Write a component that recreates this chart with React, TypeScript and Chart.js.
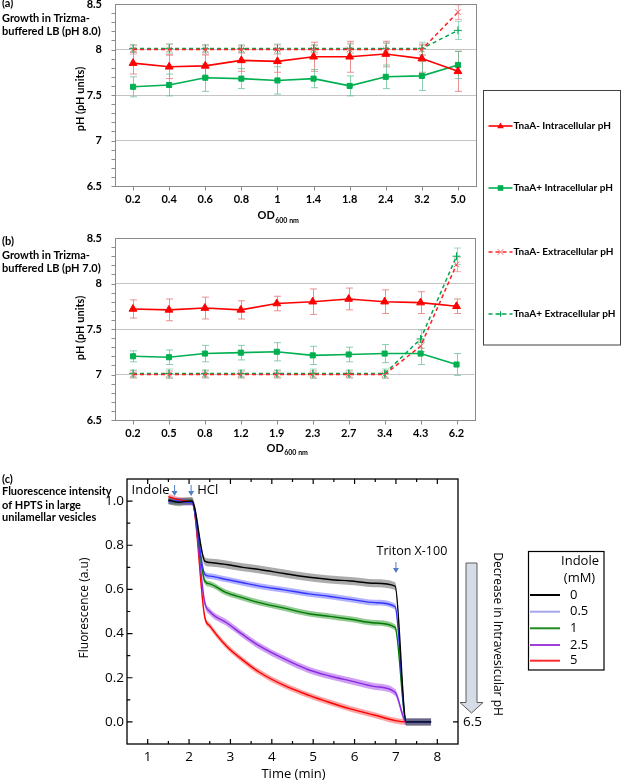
import React, { useEffect, useRef } from 'react';
import { Chart, registerables } from 'chart.js';

Chart.register(...registerables);

// ===== Panel (a): growth in Trizma-buffered LB (pH 8.0) =====
const odLabelsA = ['0.2', '0.4', '0.6', '0.8', '1', '1.4', '1.8', '2.4', '3.2', '5.0'];
const intraMinusA = [7.85, 7.81, 7.82, 7.88, 7.87, 7.92, 7.92, 7.95, 7.9, 7.76];
const intraMinusErrA = [0.12, 0.13, 0.12, 0.12, 0.12, 0.16, 0.17, 0.14, 0.15, 0.22];
const intraPlusA = [7.59, 7.61, 7.69, 7.68, 7.66, 7.68, 7.6, 7.7, 7.71, 7.83];
const intraPlusErrA = [0.11, 0.12, 0.15, 0.11, 0.15, 0.1, 0.11, 0.13, 0.16, 0.15];
const extraMinusA = [8.0, 8.0, 8.0, 8.0, 8.0, 8.0, 8.0, 8.0, 8.0, 8.41];
const extraMinusErrA = [0.05, 0.06, 0.05, 0.04, 0.05, 0.05, 0.07, 0.07, 0.06, 0.08];
const extraPlusA = [8.01, 8.01, 8.01, 8.01, 8.01, 8.01, 8.01, 8.01, 8.01, 8.21];
const extraPlusErrA = [0.04, 0.05, 0.04, 0.04, 0.05, 0.04, 0.05, 0.06, 0.07, 0.1];

// ===== Panel (b): growth in Trizma-buffered LB (pH 7.0) =====
const odLabelsB = ['0.2', '0.5', '0.8', '1.2', '1.9', '2.3', '2.7', '3.4', '4.3', '6.2'];
const intraMinusB = [7.72, 7.71, 7.73, 7.71, 7.78, 7.8, 7.83, 7.8, 7.79, 7.75];
const intraMinusErrB = [0.1, 0.12, 0.12, 0.1, 0.08, 0.14, 0.12, 0.13, 0.12, 0.08];
const intraPlusB = [7.2, 7.19, 7.23, 7.24, 7.25, 7.21, 7.22, 7.23, 7.23, 7.11];
const intraPlusErrB = [0.06, 0.08, 0.09, 0.08, 0.1, 0.1, 0.08, 0.1, 0.12, 0.12];
const extraMinusB = [7.0, 7.0, 7.0, 7.0, 7.0, 7.0, 7.0, 7.0, 7.31, 8.21];
const extraMinusErrB = [0.04, 0.04, 0.04, 0.04, 0.04, 0.04, 0.04, 0.04, 0.06, 0.08];
const extraPlusB = [7.01, 7.01, 7.01, 7.01, 7.01, 7.01, 7.01, 7.01, 7.39, 8.3];
const extraPlusErrB = [0.04, 0.05, 0.04, 0.04, 0.04, 0.05, 0.04, 0.05, 0.1, 0.09];

const phTicks = [6.5, 7, 7.5, 8, 8.5];
const seriesLabels = [
  'TnaA- Intracellular pH',
  'TnaA+ Intracellular pH',
  'TnaA- Extracellular pH',
  'TnaA+ Extracellular pH',
];

// ===== Panel (c): HPTS fluorescence in LUVs =====
const timeMin = [1.5, 1.75, 2.0, 2.07, 2.38, 2.5, 2.9, 3.3, 3.7, 4.3, 4.9, 5.4, 5.9, 6.5, 6.98, 7.25, 7.5, 7.85];
const fluorIndole0 = [1.005, 0.995, 1.0, 1.0, 0.728, 0.722, 0.713, 0.7, 0.69, 0.672, 0.655, 0.645, 0.638, 0.628, 0.615, 0.0, 0.0, 0.0];
const fluorIndole05 = [1.0, 1.0, 0.995, 0.995, 0.668, 0.66, 0.645, 0.63, 0.615, 0.598, 0.58, 0.568, 0.555, 0.54, 0.522, 0.0, 0.0, 0.0];
const fluorIndole1 = [1.0, 0.995, 1.0, 1.0, 0.638, 0.625, 0.585, 0.562, 0.54, 0.515, 0.49, 0.478, 0.465, 0.448, 0.428, 0.0, 0.0, 0.0];
const fluorIndole25 = [1.0, 1.0, 0.995, 0.995, 0.54, 0.5, 0.45, 0.395, 0.344, 0.285, 0.235, 0.208, 0.186, 0.16, 0.134, 0.0, 0.0, 0.0];
const fluorIndole5 = [1.02, 1.005, 1.0, 1.0, 0.474, 0.435, 0.344, 0.28, 0.225, 0.165, 0.12, 0.088, 0.059, 0.03, 0.006, 0.0, 0.0, 0.0];
const fluorBandHalfWidth = [0.018, 0.013, 0.013, 0.015, 0.013];
const indoleLabels = ['0', '0.5', '1', '2.5', '5'];
const fluorTicks = [0, 0.2, 0.4, 0.6, 0.8, 1.0];
const timeTicks = [1, 2, 3, 4, 5, 6, 7, 8];
const rightPhTickValues = [0];
const rightPhTickLabels = ['6.5'];
const indoleAddedAt = 1.65;
const hclAddedAt = 2.05;
const tritonAddedAt = 7.0;

const RED = '#ff0000';
const GREEN = '#00b050';
const CAL = 'Lato';
const SEG = '"Open Sans"';

function drawMarker(ctx: any, style: string, x: number, y: number, r: number, color: string) {
  ctx.save();
  ctx.fillStyle = color;
  ctx.strokeStyle = color;
  ctx.lineWidth = 1;
  ctx.setLineDash([]);
  ctx.beginPath();
  if (style === 'triangle') {
    ctx.moveTo(x, y - r);
    ctx.lineTo(x + r * 0.95, y + r * 0.65);
    ctx.lineTo(x - r * 0.95, y + r * 0.65);
    ctx.closePath();
    ctx.fill();
  } else if (style === 'rect') {
    ctx.fillRect(x - r, y - r, 2 * r, 2 * r);
  } else if (style === 'crossRot') {
    ctx.moveTo(x - r, y - r); ctx.lineTo(x + r, y + r);
    ctx.moveTo(x + r, y - r); ctx.lineTo(x - r, y + r);
    ctx.stroke();
  } else if (style === 'cross') {
    ctx.moveTo(x - r, y); ctx.lineTo(x + r, y);
    ctx.moveTo(x, y - r); ctx.lineTo(x, y + r);
    ctx.stroke();
  }
  ctx.restore();
}

function phDecorPlugin(p: any) {
  return {
    id: 'phDecor',
    beforeDatasetsDraw(chart: any) {
      const ctx = chart.ctx;
      const ys = chart.scales.y;
      chart.data.datasets.forEach((ds: any, i: number) => {
        const meta = chart.getDatasetMeta(i);
        ctx.save();
        ctx.strokeStyle = ds.errorColor;
        ctx.lineWidth = 1;
        ctx.beginPath();
        meta.data.forEach((pt: any, j: number) => {
          const v = ds.data[j];
          const e = ds.errors[j];
          const x = Math.round(pt.x) + 0.5;
          const yt = ys.getPixelForValue(v + e);
          const yb = ys.getPixelForValue(v - e);
          ctx.moveTo(x, yt); ctx.lineTo(x, yb);
          ctx.moveTo(x - 3.5, yt); ctx.lineTo(x + 3.5, yt);
          ctx.moveTo(x - 3.5, yb); ctx.lineTo(x + 3.5, yb);
        });
        ctx.stroke();
        ctx.restore();
      });
    },
    afterDraw(chart: any) {
      const { ctx, chartArea: ca } = chart;
      const xs = chart.scales.x;
      const ys = chart.scales.y;
      ctx.save();
      ctx.strokeStyle = '#8a8a8a';
      ctx.lineWidth = 1;
      const L = Math.round(ca.left) + 0.5;
      const T = Math.round(ca.top) + 0.5;
      const R = Math.round(ca.right) + 0.5;
      const B = Math.round(ca.bottom) + 0.5;
      ctx.strokeRect(L, T, R - L, B - T);
      ctx.beginPath();
      for (let k = 0; k < phTicks.length - 1; k++) {
        for (let m = 0; m < 5; m++) {
          const y = Math.round(ys.getPixelForValue(phTicks[k] + m * 0.1)) + 0.5;
          ctx.moveTo(L - 4, y); ctx.lineTo(L, y);
        }
      }
      chart.data.labels.forEach((_: any, i: number) => {
        const x = Math.round(xs.getPixelForValue(i)) + 0.5;
        ctx.moveTo(x, B); ctx.lineTo(x, B + 4);
      });
      ctx.stroke();

      ctx.fillStyle = '#000';
      ctx.save();
      ctx.translate(80.5, (ca.top + ca.bottom) / 2 + p.yTitleShift);
      ctx.rotate(-Math.PI / 2);
      ctx.font = `bold 11px ${CAL}`;
      ctx.textAlign = 'center';
      ctx.textBaseline = 'middle';
      ctx.fillText('pH (pH units)', 0, 0);
      ctx.restore();

      ctx.textAlign = 'left';
      ctx.textBaseline = 'middle';
      ctx.font = `bold 11px ${CAL}`;
      ctx.fillText('OD', p.odX, p.odY);
      const w = ctx.measureText('OD').width;
      ctx.font = `bold 7px ${CAL}`;
      ctx.fillText('600 nm', p.odX + w + 0.5, p.odY + 5);

      ctx.font = `bold 11px ${CAL}`;
      p.caption.forEach((line: string, i: number) => ctx.fillText(line, 2, p.captionYs[i]));

      if (p.legend) {
        const lg = p.legend;
        ctx.strokeStyle = '#404040';
        ctx.lineWidth = 1;
        ctx.strokeRect(lg.x, lg.y, lg.w, lg.h);
        chart.data.datasets.forEach((ds: any, i: number) => {
          const y = lg.itemYs[i];
          ctx.save();
          ctx.strokeStyle = ds.borderColor;
          ctx.lineWidth = 1.6;
          ctx.setLineDash(ds.borderDash || []);
          ctx.beginPath();
          ctx.moveTo(lg.x + 5, y); ctx.lineTo(lg.x + 29, y);
          ctx.stroke();
          ctx.restore();
          drawMarker(ctx, ds.pointStyle, lg.x + 17, y, ds.pointStyle === 'triangle' ? 3.5 : 2.8, ds.pointBorderColor || ds.borderColor);
          ctx.fillStyle = '#000';
          ctx.font = `bold 10px ${CAL}`;
          ctx.textAlign = 'left';
          ctx.textBaseline = 'middle';
          ctx.fillText(seriesLabels[i], lg.x + 30, y);
        });
      }
      ctx.restore();
    },
  };
}

function makePhChart(canvas: HTMLCanvasElement, d: any, deco: any, padding: any) {
  return new Chart(canvas, {
    type: 'line',
    data: {
      labels: d.labels,
      datasets: [
        {
          label: seriesLabels[0], data: d.intraMinus, errors: d.intraMinusErr,
          errorColor: 'rgba(225,110,110,0.75)', borderColor: RED, backgroundColor: RED,
          pointBackgroundColor: RED, pointBorderColor: RED, borderWidth: 1.6,
          pointStyle: 'triangle', pointRadius: 4.5, pointBorderWidth: 1,
        },
        {
          label: seriesLabels[1], data: d.intraPlus, errors: d.intraPlusErr,
          errorColor: 'rgba(100,190,150,0.75)', borderColor: GREEN, backgroundColor: GREEN,
          pointBackgroundColor: GREEN, pointBorderColor: GREEN, borderWidth: 1.6,
          pointStyle: 'rect', pointRadius: 3.6, pointBorderWidth: 1,
        },
        {
          label: seriesLabels[2], data: d.extraMinus, errors: d.extraMinusErr,
          errorColor: 'rgba(225,120,120,0.6)', borderColor: '#ff2020', backgroundColor: 'transparent',
          pointBorderColor: 'rgba(235,90,90,0.9)', borderWidth: 1.5, borderDash: [4, 3],
          pointStyle: 'crossRot', pointRadius: 4, pointBorderWidth: 1,
        },
        {
          label: seriesLabels[3], data: d.extraPlus, errors: d.extraPlusErr,
          errorColor: 'rgba(100,190,150,0.6)', borderColor: '#00a650', backgroundColor: 'transparent',
          pointBorderColor: '#00a650', borderWidth: 1.5, borderDash: [4, 3],
          pointStyle: 'cross', pointRadius: 4, pointBorderWidth: 1,
        },
      ] as any,
    },
    options: {
      responsive: false,
      animation: false,
      devicePixelRatio: 1,
      events: [],
      layout: { padding },
      plugins: { legend: { display: false }, tooltip: { enabled: false } },
      scales: {
        x: {
          type: 'category',
          offset: true,
          grid: { display: false, drawTicks: false },
          border: { display: false },
          ticks: {
            color: '#000', padding: 7, maxRotation: 0, autoSkip: false,
            font: { family: CAL, size: 11, weight: 'bold' },
          },
          afterFit: (s: any) => { s.height = 44; },
        },
        y: {
          min: 6.5,
          max: 8.5,
          afterBuildTicks: (s: any) => { s.ticks = phTicks.map((v) => ({ value: v })); },
          ticks: {
            color: '#000', padding: 13,
            font: { family: CAL, size: 11, weight: 'bold' },
            callback: (v: any) => String(v),
          },
          grid: { color: '#c4c4c4', lineWidth: 1, drawTicks: false },
          border: { display: false },
          afterFit: (s: any) => { s.width = 115; },
        },
      },
    } as any,
    plugins: [phDecorPlugin(deco)],
  });
}

function downArrow(ctx: any, x: number, y1: number, y2: number, color: string) {
  ctx.save();
  ctx.strokeStyle = color;
  ctx.fillStyle = color;
  ctx.lineWidth = 1;
  ctx.beginPath();
  ctx.moveTo(x, y1); ctx.lineTo(x, y2 - 4);
  ctx.stroke();
  ctx.beginPath();
  ctx.moveTo(x - 3, y2 - 5); ctx.lineTo(x + 3, y2 - 5); ctx.lineTo(x, y2);
  ctx.closePath();
  ctx.fill();
  ctx.restore();
}

const fluorPlugin = {
  id: 'fluorDecor',
  afterDraw(chart: any) {
    const { ctx, chartArea: ca } = chart;
    const xs = chart.scales.x;
    const ys = chart.scales.y;
    ctx.save();
    ctx.strokeStyle = '#000';
    ctx.lineWidth = 1.3;
    ctx.strokeRect(ca.left, ca.top, ca.right - ca.left, ca.bottom - ca.top);
    ctx.lineWidth = 1.2;
    ctx.beginPath();
    timeTicks.forEach((t) => {
      const x = xs.getPixelForValue(t);
      ctx.moveTo(x, ca.bottom); ctx.lineTo(x, ca.bottom - 5);
      ctx.moveTo(x, ca.top); ctx.lineTo(x, ca.top + 5);
      const xm = xs.getPixelForValue(t - 0.5);
      if (xm > ca.left + 1) {
        ctx.moveTo(xm, ca.bottom); ctx.lineTo(xm, ca.bottom - 3);
        ctx.moveTo(xm, ca.top); ctx.lineTo(xm, ca.top + 3);
      }
    });
    fluorTicks.forEach((v) => {
      const y = ys.getPixelForValue(v);
      ctx.moveTo(ca.left, y); ctx.lineTo(ca.left + 5.5, y);
      const ym = ys.getPixelForValue(v + 0.1);
      if (ym > ca.top + 1) { ctx.moveTo(ca.left, ym); ctx.lineTo(ca.left + 3.3, ym); }
    });
    rightPhTickValues.forEach((v) => {
      const y = ys.getPixelForValue(v);
      ctx.moveTo(ca.right, y); ctx.lineTo(ca.right - 5, y);
    });
    ctx.stroke();

    ctx.fillStyle = '#000';
    ctx.font = `13px ${SEG}`;
    ctx.textAlign = 'center';
    ctx.textBaseline = 'middle';
    ctx.fillText('Time (min)', (ca.left + ca.right) / 2 + 1, 314);
    ctx.save();
    ctx.translate(85, 148);
    ctx.rotate(-Math.PI / 2);
    ctx.font = `12px ${SEG}`;
    ctx.fillText('Fluorescence (a.u)', 0, 0);
    ctx.restore();

    const arrowColor = '#4f7fc0';
    const xi = xs.getPixelForValue(indoleAddedAt);
    const xh = xs.getPixelForValue(hclAddedAt);
    const xt = xs.getPixelForValue(tritonAddedAt);
    downArrow(ctx, xi, 25, 36, arrowColor);
    downArrow(ctx, xh, 25, 36, arrowColor);
    downArrow(ctx, xt, 102, 113, arrowColor);
    ctx.fillStyle = '#000';
    ctx.font = `13px ${SEG}`;
    ctx.textBaseline = 'middle';
    ctx.textAlign = 'right';
    ctx.fillText('Indole', xi - 5, 30);
    ctx.textAlign = 'left';
    ctx.fillText('HCl', xh + 6, 30);
    ctx.textAlign = 'center';
    ctx.font = `12.5px ${SEG}`;
    ctx.fillText('Triton X-100', xt + 16, 91.5);

    ctx.save();
    ctx.fillStyle = '#d6dce5';
    ctx.strokeStyle = '#5a5a5a';
    ctx.lineWidth = 1;
    ctx.beginPath();
    ctx.moveTo(466, 103);
    ctx.lineTo(477, 103);
    ctx.lineTo(477, 242.5);
    ctx.lineTo(483, 242.5);
    ctx.lineTo(471.5, 253);
    ctx.lineTo(460, 242.5);
    ctx.lineTo(466, 242.5);
    ctx.closePath();
    ctx.fill();
    ctx.stroke();
    ctx.restore();
    ctx.save();
    ctx.translate(497, 174);
    ctx.rotate(Math.PI / 2);
    ctx.fillStyle = '#000';
    ctx.font = `12px ${SEG}`;
    ctx.textAlign = 'center';
    ctx.textBaseline = 'middle';
    ctx.fillText('Decrease in Intravesicular pH', 0, 0);
    ctx.restore();

    ctx.fillStyle = '#000';
    ctx.font = `bold 11px ${CAL}`;
    ctx.textAlign = 'left';
    ctx.textBaseline = 'middle';
    ['(c)', 'Fluorescence intensity', 'of HPTS in large', 'unilamellar vesicles'].forEach((s, i) =>
      ctx.fillText(s, 2, [19, 31.7, 45, 57.7][i]));

    ctx.strokeStyle = '#000';
    ctx.lineWidth = 1.2;
    ctx.strokeRect(528.5, 91.5, 75.5, 118.5);
    ctx.font = `13px ${SEG}`;
    ctx.textAlign = 'right';
    ctx.fillText('Indole', 599, 101.5);
    ctx.textAlign = 'center';
    ctx.fillText('(mM)', 579.5, 118);
    const legendColors = ['#000000', '#a5a5ee', '#1f8b1f', '#a040d8', '#ff2a2a'];
    const itemYs = [135, 151.7, 168.3, 185, 200.7];
    indoleLabels.forEach((lab, i) => {
      ctx.strokeStyle = legendColors[i];
      ctx.lineWidth = 2;
      ctx.beginPath();
      ctx.moveTo(530, itemYs[i]); ctx.lineTo(560, itemYs[i]);
      ctx.stroke();
      ctx.fillStyle = '#000';
      ctx.textAlign = 'left';
      ctx.fillText(lab, 570, itemYs[i]);
    });
    ctx.restore();
  },
};

function makeFluorChart(canvas: HTMLCanvasElement) {
  const series = [fluorIndole0, fluorIndole05, fluorIndole1, fluorIndole25, fluorIndole5];
  const lineColors = ['#000000', '#3535ff', '#007a00', '#8a2be2', '#ff0000'];
  const bandColors = ['rgba(90,90,90,0.5)', 'rgba(100,100,255,0.5)', 'rgba(40,150,40,0.5)', 'rgba(175,95,235,0.6)', 'rgba(255,90,90,0.55)'];
  const pts = (arr: number[]) => timeMin.map((t, i) => ({ x: t, y: arr[i] }));
  const lines = series.map((s, i) => ({
    label: indoleLabels[i], data: pts(s), borderColor: lineColors[i], borderWidth: 1.4,
    pointRadius: 0, fill: false, cubicInterpolationMode: 'monotone',
  }));
  const bands: any[] = [];
  series.forEach((s, i) => {
    const hw = fluorBandHalfWidth[i];
    bands.push({ data: pts(s.map((v) => v + hw)), borderWidth: 0, borderColor: 'transparent', pointRadius: 0, fill: false, cubicInterpolationMode: 'monotone' });
    bands.push({ data: pts(s.map((v) => v - hw)), borderWidth: 0, borderColor: 'transparent', pointRadius: 0, fill: '-1', backgroundColor: bandColors[i], cubicInterpolationMode: 'monotone' });
  });
  const tickFont = { family: 'Open Sans', size: 13.5 };
  return new Chart(canvas, {
    type: 'line',
    data: { datasets: [...lines, ...bands] as any },
    options: {
      responsive: false,
      animation: false,
      devicePixelRatio: 1,
      events: [],
      layout: { padding: { top: 19, right: 125, bottom: 0, left: 0 } },
      plugins: { legend: { display: false }, tooltip: { enabled: false } },
      scales: {
        x: {
          type: 'linear', min: 0.5, max: 8.5,
          afterBuildTicks: (s: any) => { s.ticks = timeTicks.map((v) => ({ value: v })); },
          ticks: { color: '#000', padding: 5, font: tickFont, callback: (v: any) => String(v) },
          grid: { display: false, drawTicks: false },
          border: { display: false },
          afterFit: (s: any) => { s.height = 38; },
        },
        y: {
          min: -0.1, max: 1.1,
          afterBuildTicks: (s: any) => { s.ticks = fluorTicks.map((v) => ({ value: v })); },
          ticks: { color: '#000', padding: 3, font: tickFont, callback: (v: any) => Number(v).toFixed(1) },
          grid: { display: false, drawTicks: false },
          border: { display: false },
          afterFit: (s: any) => { s.width = 127; },
        },
        y2: {
          position: 'right', min: -0.1, max: 1.1,
          afterBuildTicks: (s: any) => { s.ticks = rightPhTickValues.map((v) => ({ value: v })); },
          ticks: { color: '#000', padding: 5, font: tickFont, callback: (_v: any, i: number) => rightPhTickLabels[i] },
          grid: { display: false, drawTicks: false },
          border: { display: false },
          afterFit: (s: any) => { s.width = 40; },
        },
      },
    } as any,
    plugins: [fluorPlugin],
  });
}

export default function App() {
  const refA = useRef<HTMLCanvasElement>(null);
  const refB = useRef<HTMLCanvasElement>(null);
  const refC = useRef<HTMLCanvasElement>(null);

  useEffect(() => {
    const chartA = makePhChart(
      refA.current!,
      {
        labels: odLabelsA, intraMinus: intraMinusA, intraMinusErr: intraMinusErrA,
        intraPlus: intraPlusA, intraPlusErr: intraPlusErrA, extraMinus: extraMinusA,
        extraMinusErr: extraMinusErrA, extraPlus: extraPlusA, extraPlusErr: extraPlusErrA,
      },
      {
        yTitleShift: 4, odX: 257.5, odY: 235.7,
        caption: ['(a)', 'Growth in Trizma-', 'buffered LB (pH 8.0)'], captionYs: [23, 38.3, 51.7],
        legend: { x: 483.5, y: 110.5, w: 137, h: 254.5, itemYs: [146, 208, 272, 334] },
      },
      { top: 24, right: 147, bottom: 120, left: 0 },
    );
    const chartB = makePhChart(
      refB.current!,
      {
        labels: odLabelsB, intraMinus: intraMinusB, intraMinusErr: intraMinusErrB,
        intraPlus: intraPlusB, intraPlusErr: intraPlusErrB, extraMinus: extraMinusB,
        extraMinusErr: extraMinusErrB, extraPlus: extraPlusB, extraPlusErr: extraPlusErrB,
      },
      {
        yTitleShift: -1, odX: 266.5, odY: 230,
        caption: ['(b)', 'Growth in Trizma-', 'buffered LB (pH 7.0)'], captionYs: [23.7, 37, 50.3],
        legend: null,
      },
      { top: 20, right: 4, bottom: 6, left: 0 },
    );
    const chartC = makeFluorChart(refC.current!);
    return () => {
      chartA.destroy();
      chartB.destroy();
      chartC.destroy();
    };
  }, []);

  return (
    <div style={{ position: 'absolute', left: 0, top: 0, width: 623, height: 782, overflow: 'hidden', background: '#fff' }}>
      <canvas ref={refA} width={623} height={370} style={{ position: 'absolute', left: 0, top: -20, display: 'block' }} />
      <canvas ref={refB} width={480} height={252} style={{ position: 'absolute', left: 0, top: 218, display: 'block' }} />
      <canvas ref={refC} width={623} height={322} style={{ position: 'absolute', left: 0, top: 460, display: 'block' }} />
    </div>
  );
}
